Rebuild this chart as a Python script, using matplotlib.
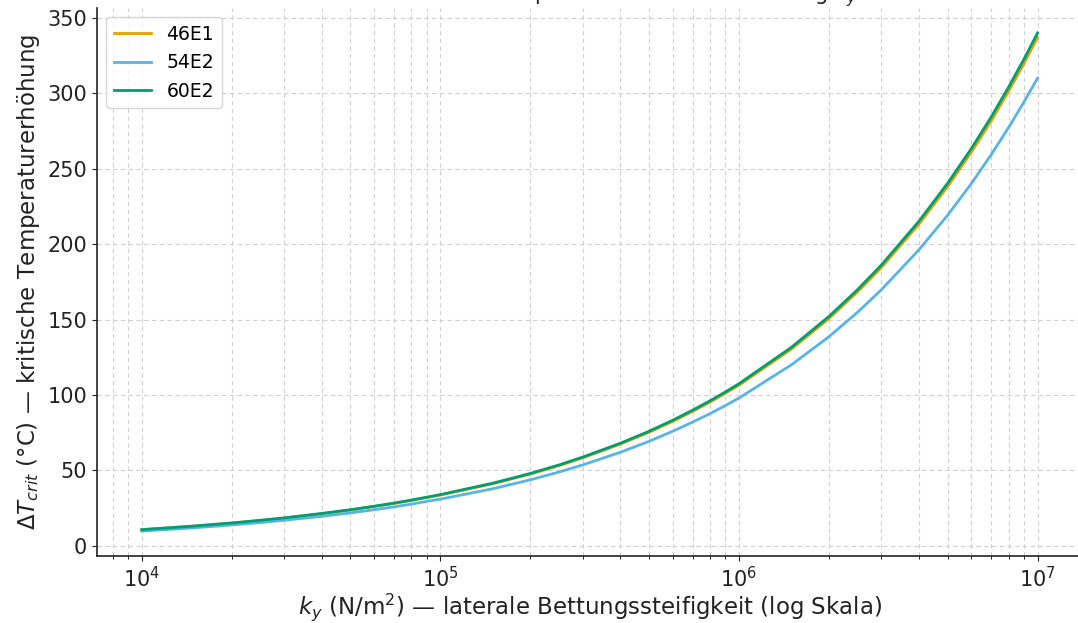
import matplotlib
matplotlib.use('Agg')
import matplotlib.pyplot as plt
from matplotlib.ticker import LogLocator

k_y = [1e4, 1.5e4, 2e4, 2.5e4, 3e4, 4e4, 5e4, 6e4, 7e4, 8e4, 9e4,
       1e5, 1.5e5, 2e5, 2.5e5, 3e5, 4e5, 5e5, 6e5, 7e5, 8e5, 9e5,
       1e6, 1.5e6, 2e6, 2.5e6, 3e6, 4e6, 5e6, 6e6, 7e6, 8e6, 9e6,
       1e7]
dt_46E1 = [10.7, 13.1, 15.1, 16.8, 18.4, 21.3, 23.8, 26.1, 28.1, 30.1, 32.0,
           33.7, 41.2, 47.6, 53.2, 58.4, 67.4, 75.3, 82.5, 89.2, 95.3, 101.1,
           106.5, 130.5, 150.6, 168.5, 184.5, 213.1, 238.2, 260.9, 281.8, 301.4, 319.6,
           337.0]
dt_54E2 = [9.8, 12.0, 13.9, 15.5, 17.0, 19.6, 21.9, 24.0, 25.9, 27.7, 29.5,
           31.0, 37.9, 43.8, 49.0, 53.7, 62.0, 69.3, 76.0, 82.1, 87.7, 93.0,
           98.0, 120.1, 138.6, 155.0, 169.8, 196.1, 219.2, 240.1, 259.4, 277.3, 294.1,
           310.0]
dt_60E2 = [10.8, 13.2, 15.2, 17.0, 18.6, 21.5, 24.0, 26.3, 28.4, 30.4, 32.3,
           34.0, 41.6, 48.0, 53.7, 58.9, 68.0, 76.0, 83.3, 90.0, 96.2, 102.0,
           107.5, 131.7, 152.0, 170.0, 186.2, 215.0, 240.4, 263.3, 284.4, 304.1, 322.5,
           340.0]

profile = ['46E1', '54E2', '60E2']
farben = ['#E69F00', '#56B4E9', '#009E73']

fig = plt.figure(figsize=(10.78, 6.23), dpi=100)
ax = fig.add_axes([0.09, 0.1075, 0.914, 0.8796])

for name, werte, farbe in zip(profile, [dt_46E1, dt_54E2, dt_60E2], farben):
    ax.plot(k_y, werte, color=farbe, lw=2, label=name)

ax.set_xscale('log')
ax.xaxis.set_minor_locator(LogLocator(base=10, subs=range(2, 10)))

# Gitter und Achsen
ax.grid(True, which='major', ls=(0, (4, 3)), lw=0.8, color='#d0d0d0')
ax.grid(True, which='minor', axis='x', ls=(0, (4, 3)), lw=0.8, color='#d0d0d0')
for s in ['top', 'right']:
    ax.spines[s].set_visible(False)
for s in ['left', 'bottom']:
    ax.spines[s].set_color('#222222')
    ax.spines[s].set_linewidth(1.2)
ax.tick_params(labelsize=15, colors='#222222')

ax.set_xlabel(r'$k_y$ (N/m$^2$) — laterale Bettungssteifigkeit (log Skala)',
              fontsize=16.5, color='#222222', labelpad=0)
ax.set_ylabel(r'$\Delta T_{crit}$ (°C) — kritische Temperaturerhöhung',
              fontsize=16.5, color='#222222')

# Titel liegt oben teilweise ausserhalb des Bildes (wie im Original)
fig.text(0.547, 1.0, r'Kritische $\Delta T$ für Temperatur-Knicken vs. Bettung $k_y$',
         ha='center', va='baseline', fontsize=15, color='#222222')

ax.legend(loc='upper left', fontsize=13.5, frameon=True, edgecolor='#cccccc')

fig.savefig('out.png', dpi=100)
